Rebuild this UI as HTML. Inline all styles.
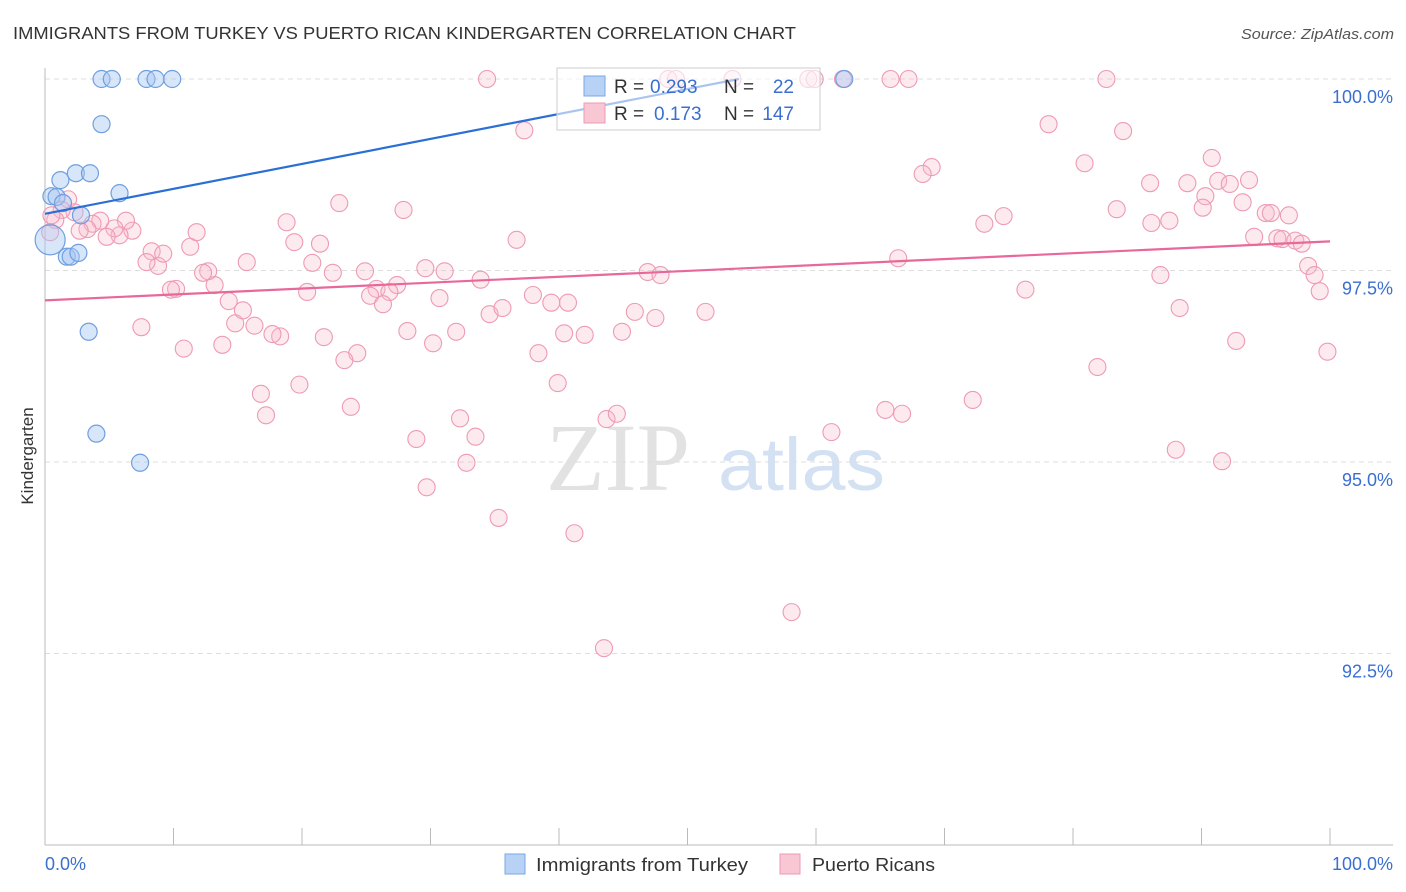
<!DOCTYPE html>
<html><head><meta charset="utf-8"><style>
html,body{margin:0;padding:0;background:#fff;width:1406px;height:892px;overflow:hidden;font-family:"Liberation Sans",sans-serif}
</style></head><body>
<svg id="chart" width="1406" height="892" xmlns="http://www.w3.org/2000/svg" style="position:absolute;left:0;top:0">
<text x="13" y="39" font-size="17.5" fill="#333" textLength="783" lengthAdjust="spacingAndGlyphs">IMMIGRANTS FROM TURKEY VS PUERTO RICAN KINDERGARTEN CORRELATION CHART</text>
<text x="1394" y="39" font-size="15" fill="#555" text-anchor="end" font-style="italic" textLength="153" lengthAdjust="spacingAndGlyphs">Source: ZipAtlas.com</text>
<text transform="translate(33,456) rotate(-90)" font-size="17" fill="#333" text-anchor="middle">Kindergarten</text>
<g><text x="690" y="490" font-size="96" fill="#e2e2e2" text-anchor="end" font-family="Liberation Serif,serif">ZIP</text><text x="718" y="490" font-size="74" fill="#d3e1f3" textLength="167" lengthAdjust="spacingAndGlyphs">atlas</text></g>
<g id="grid"></g><g id="axes"></g><g id="pink"></g><g id="blue"></g><g id="lines"></g>
<g>
<rect x="557" y="68" width="263" height="62" fill="#fff" fill-opacity="0.6" stroke="#ccc"/>
<rect x="584" y="76" width="21" height="20" fill="#b8d2f5" stroke="#7aa7e6"/>
<text x="614" y="93" font-size="19" fill="#333">R = </text><text x="650" y="93" font-size="19" fill="#3a6fd0">0.293</text>
<text x="724" y="93" font-size="19" fill="#333">N = </text><text x="794" y="93" font-size="19" fill="#3a6fd0" text-anchor="end">22</text>
<rect x="584" y="103" width="21" height="20" fill="#f9c6d4" stroke="#ec9ab3"/>
<text x="614" y="120" font-size="19" fill="#333">R = </text><text x="654" y="120" font-size="19" fill="#3a6fd0">0.173</text>
<text x="724" y="120" font-size="19" fill="#333">N = </text><text x="794" y="120" font-size="19" fill="#3a6fd0" text-anchor="end">147</text>
</g>
<g>
<rect x="505" y="854" width="20" height="20" fill="#b8d2f5" stroke="#7aa7e6"/>
<text x="536" y="871" font-size="18" fill="#333" textLength="212" lengthAdjust="spacingAndGlyphs">Immigrants from Turkey</text>
<rect x="780" y="854" width="20" height="20" fill="#f9c6d4" stroke="#ec9ab3"/>
<text x="812" y="871" font-size="18" fill="#333" textLength="123" lengthAdjust="spacingAndGlyphs">Puerto Ricans</text>
</g>
</svg>
<script>
const yTicks=[100,97.5,95,92.5];
const yTickLabels=["100.0%","97.5%","95.0%","92.5%"];
const xEdgeLabels=["0.0%","100.0%"];
const blueX=[4.4,5.2,7.9,8.6,9.9,62.2,4.4,1.2,2.4,3.5,5.8,0.5,0.9,1.4,2.8,0.4,1.7,2.0,2.6,3.4,4.0,7.4];
const blueY=[100,100,100,100,100,100,99.41,98.68,98.77,98.77,98.51,98.47,98.46,98.38,98.22,97.9,97.68,97.68,97.73,96.7,95.37,94.99];
const pinkX=[34.4,48.5,49.1,53.5,59.4,59.9,62.1,65.8,67.2,82.6,37.3,78.1,83.9,80.9,90.8,69.0,68.3,86.0,88.9,91.3,92.2,93.7,90.3,90.1,93.2,83.4,74.6,73.1,86.1,87.5,95.0,95.4,96.8,94.1,95.9,96.3,97.3,97.8,98.3,98.8,99.2,99.8,86.8,88.3,92.7,81.9,76.3,72.2,88.0,91.6,66.4,65.4,66.7,61.2,58.1,43.5,41.2,35.3,29.7,32.8,28.9,32.3,33.5,43.7,44.5,39.9,38.4,40.4,42.0,44.9,45.9,47.5,51.4,46.9,47.9,36.7,37.97,39.4,40.7,34.6,35.6,33.9,30.7,31.1,29.6,32.0,30.2,28.2,27.9,22.9,21.4,19.4,18.8,20.8,22.4,24.9,27.4,25.8,26.8,25.3,26.3,20.4,21.7,24.3,23.3,23.8,19.8,18.3,17.7,16.3,17.2,16.8,14.8,15.4,14.3,13.8,13.2,12.7,12.3,15.7,11.3,11.8,10.2,9.8,10.8,8.8,8.3,9.2,7.9,7.5,6.8,6.3,5.8,5.4,4.8,4.3,3.7,3.3,2.7,2.3,1.8,1.3,0.8,0.4,0.5];
const pinkY=[100,100,100,100,100,100,100,100,100,100,99.33,99.41,99.32,98.9,98.97,98.85,98.76,98.64,98.64,98.67,98.63,98.68,98.47,98.32,98.39,98.3,98.21,98.11,98.12,98.15,98.25,98.25,98.22,97.94,97.92,97.91,97.89,97.85,97.56,97.44,97.23,96.44,97.44,97.01,96.58,96.24,97.25,95.81,95.16,95.01,97.66,95.68,95.63,95.39,93.04,92.57,94.07,94.27,94.67,94.99,95.3,95.57,95.33,95.56,95.63,96.03,96.42,96.68,96.66,96.7,96.96,96.88,96.96,97.48,97.44,97.9,97.18,97.08,97.08,96.93,97.01,97.38,97.14,97.49,97.53,96.7,96.55,96.71,98.29,98.38,97.85,97.87,98.13,97.6,97.47,97.49,97.31,97.26,97.22,97.17,97.06,97.22,96.63,96.42,96.33,95.72,96.01,96.64,96.67,96.78,95.61,95.89,96.81,96.98,97.1,96.53,97.31,97.49,97.47,97.61,97.81,98.0,97.26,97.25,96.48,97.56,97.75,97.72,97.61,96.76,98.02,98.15,97.96,98.05,97.94,98.15,98.11,98.04,98.02,98.26,98.43,98.29,98.16,98.0,98.22];
const blueTrend=[[0,98.24],[54,100]];
const pinkTrend=[[0,97.11],[100,97.88]];
const NS="http://www.w3.org/2000/svg";
const sx=v=>45+v*12.85;
const sy=v=>79+(100-v)*76.6;
function mk(tag,attrs,parent){const e=document.createElementNS(NS,tag);for(const k in attrs)e.setAttribute(k,attrs[k]);parent.appendChild(e);return e;}
const grid=document.getElementById('grid'),axes=document.getElementById('axes');
yTicks.forEach((t,i)=>{
 const l=mk('line',{x1:45,x2:1393,y1:sy(t),y2:sy(t),stroke:'#ddd','stroke-dasharray':'5,4'},grid);
 
 
 const tx=mk('text',{x:1393,y:sy(t)+24,'font-size':18,fill:'#3a6fd0','text-anchor':'end'},axes);
 tx.textContent=yTickLabels[i];
 
 
});
const ya=mk('line',{x1:45,x2:45,y1:68,y2:845,stroke:'#bbb'},axes);


const xa=mk('line',{x1:45,x2:1393,y1:845,y2:845,stroke:'#bbb'},axes);


for(let i=0;i<=10;i++){const t=mk('line',{x1:sx(i*10),x2:sx(i*10),y1:828,y2:845,stroke:'#bbb'},axes);
 
 }
[[0,'start'],[100,'end']].forEach((p,i)=>{const t=mk('text',{x:sx(p[0])+(i?63:0),y:870,'font-size':18,fill:'#3a6fd0','text-anchor':p[1]},axes);t.textContent=xEdgeLabels[i];
 
 });
const pg=document.getElementById('pink');
pinkX.forEach((x,i)=>{const c=mk('circle',{cx:sx(x),cy:sy(pinkY[i]),r:8.5,fill:'#f7b8cb','fill-opacity':0.3,stroke:'#ee9ab4','stroke-width':1.1},pg);
 
 });
const bg=document.getElementById('blue');
blueX.forEach((x,i)=>{const c=mk('circle',{cx:sx(x),cy:sy(blueY[i]),r:(i==15?15:8.5),fill:'#a9c8f2','fill-opacity':0.45,stroke:'#6f9fe0','stroke-width':1.2},bg);
 
 });
const lg=document.getElementById('lines');
const bl=mk('line',{x1:sx(blueTrend[0][0]),y1:sy(blueTrend[0][1]),x2:sx(blueTrend[1][0]),y2:sy(blueTrend[1][1]),stroke:'#2a6fd6','stroke-width':2.2},lg);


const pl=mk('line',{x1:sx(pinkTrend[0][0]),y1:sy(pinkTrend[0][1]),x2:sx(pinkTrend[1][0]),y2:sy(pinkTrend[1][1]),stroke:'#e8689a','stroke-width':2.2},lg);


</script>
</body></html>
